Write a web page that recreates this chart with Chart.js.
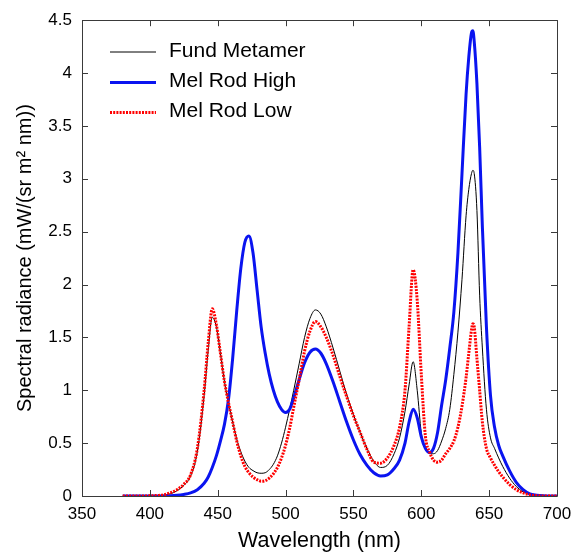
<!DOCTYPE html>
<html>
<head>
<meta charset="utf-8">
<script src="https://cdn.jsdelivr.net/npm/chart.js@4.4.0/dist/chart.umd.min.js"></script>
<style>
  html, body { margin: 0; padding: 0; background: #fff; }
  #wrap { width: 584px; height: 554px; position: relative; }
</style>
</head>
<body>
<div id="wrap"><canvas id="c" width="584" height="554"></canvas></div>
<script>
// Wavelength samples (nm)
const wavelengths = [380,385,390,395,400,405,410,415,420,425,430,435,440,443,446,449,452,455,458,461,464,467,470,473,476,479,482,485,488,491,494,497,500,503,506,510,514,518,522,526,530,535,540,545,550,555,560,565,570,575,580,584,588,591,594,597,600,603,606,609,612,615,618,621,624,627,630,633,635,637,638,639,641,643,645,648,651,654,657,660,665,670,675,680,685,690,695,700];

// Fund Metamer (black)
const fundMetamer = [0,0,0,0,0.002,0.004,0.008,0.02,0.05,0.1,0.19,0.42,0.95,1.38,1.69,1.6,1.35,1.08,0.88,0.7,0.54,0.42,0.33,0.27,0.24,0.22,0.215,0.22,0.25,0.3,0.38,0.5,0.65,0.82,1.0,1.25,1.5,1.68,1.76,1.72,1.6,1.4,1.18,0.96,0.77,0.6,0.45,0.33,0.27,0.29,0.4,0.55,0.8,1.05,1.27,1.0,0.6,0.45,0.41,0.4,0.43,0.52,0.64,0.82,1.15,1.55,2.05,2.65,2.9,3.05,3.08,3.05,2.7,1.9,1.4,0.82,0.55,0.45,0.36,0.28,0.17,0.09,0.04,0.015,0.005,0,0,0];

// Mel Rod High (blue)
const melRodHigh = [0,0,0,0,0,0,0.001,0.002,0.006,0.015,0.03,0.06,0.12,0.18,0.27,0.38,0.52,0.68,0.92,1.3,1.75,2.15,2.4,2.46,2.3,1.95,1.6,1.35,1.15,1.0,0.89,0.82,0.79,0.82,0.93,1.1,1.26,1.36,1.39,1.35,1.25,1.08,0.89,0.7,0.53,0.39,0.29,0.22,0.19,0.2,0.26,0.34,0.5,0.7,0.82,0.74,0.56,0.45,0.41,0.45,0.6,0.86,1.1,1.4,1.74,2.3,3.05,3.8,4.15,4.38,4.4,4.3,3.9,3.3,2.55,1.6,0.95,0.65,0.48,0.38,0.24,0.13,0.06,0.02,0.008,0.002,0,0];

// Mel Rod Low (red, dotted)
const melRodLow = [0,0,0,0,0.002,0.005,0.01,0.03,0.06,0.11,0.2,0.45,1.0,1.45,1.77,1.62,1.35,1.08,0.88,0.7,0.52,0.38,0.28,0.22,0.18,0.155,0.14,0.145,0.17,0.21,0.27,0.36,0.48,0.64,0.84,1.1,1.37,1.56,1.65,1.6,1.5,1.33,1.13,0.94,0.76,0.6,0.44,0.32,0.31,0.36,0.48,0.65,1.0,1.6,2.14,1.85,1.15,0.57,0.42,0.34,0.32,0.34,0.4,0.45,0.52,0.65,0.85,1.12,1.35,1.57,1.63,1.6,1.3,1.0,0.7,0.45,0.36,0.29,0.23,0.18,0.11,0.06,0.03,0.01,0.003,0,0,0];

const seriesNames = ['Fund Metamer', 'Mel Rod High', 'Mel Rod Low'];
const xTicks = [350,400,450,500,550,600,650,700];
const yTicks = [0,0.5,1,1.5,2,2.5,3,3.5,4,4.5];

function pts(vals) { return wavelengths.map((w, i) => ({x: w, y: vals[i]})); }

const FONT = "'Liberation Sans', Arial, Helvetica, sans-serif";

const frameTicks = {
  id: 'frameTicks',
  afterDatasetsDraw(chart) {
    const {ctx, chartArea: a, scales: {x, y}} = chart;
    ctx.save();
    ctx.strokeStyle = '#3a3a3a';
    ctx.lineWidth = 1;
    ctx.beginPath();
    ctx.rect(Math.round(a.left) + 0.5, Math.round(a.top) + 0.5, Math.round(a.right - a.left), Math.round(a.bottom - a.top));
    ctx.stroke();
    const L = 6;
    ctx.beginPath();
    xTicks.forEach(v => {
      const px = Math.round(x.getPixelForValue(v)) + 0.5;
      ctx.moveTo(px, a.bottom); ctx.lineTo(px, a.bottom - L);
      ctx.moveTo(px, a.top); ctx.lineTo(px, a.top + L);
    });
    yTicks.forEach(v => {
      const py = Math.round(y.getPixelForValue(v)) + 0.5;
      ctx.moveTo(a.left, py); ctx.lineTo(a.left + L, py);
      ctx.moveTo(a.right, py); ctx.lineTo(a.right - L, py);
    });
    ctx.stroke();
    ctx.restore();
  },
  afterDraw(chart) {
    const {ctx} = chart;
    ctx.save();
    const rows = [52, 82.5, 112.5];
    chart.data.datasets.forEach((ds, i) => {
      const yy = rows[i];
      ctx.beginPath();
      ctx.strokeStyle = ds.borderColor;
      ctx.lineWidth = ds.borderWidth;
      ctx.setLineDash(ds.borderDash || []);
      ctx.moveTo(110, yy); ctx.lineTo(156, yy);
      ctx.stroke();
      ctx.setLineDash([]);
      ctx.fillStyle = '#000';
      ctx.font = '21px ' + FONT;
      ctx.textBaseline = 'middle';
      ctx.textAlign = 'left';
      ctx.fillText(seriesNames[i], 169, yy - 1);
    });
    ctx.restore();
  }
};

new Chart(document.getElementById('c'), {
  type: 'line',
  data: {
    datasets: [
      { label: seriesNames[0], data: pts(fundMetamer), borderColor: '#000000', borderWidth: 1, pointRadius: 0, cubicInterpolationMode: 'monotone', order: 2 },
      { label: seriesNames[1], data: pts(melRodHigh), borderColor: '#0a14f0', borderWidth: 3, pointRadius: 0, cubicInterpolationMode: 'monotone', order: 1 },
      { label: seriesNames[2], data: pts(melRodLow), borderColor: '#ff0000', borderWidth: 3, borderDash: [2, 1.2], pointRadius: 0, cubicInterpolationMode: 'monotone', order: 0 }
    ]
  },
  options: {
    responsive: false,
    animation: false,
    events: [],
    layout: { padding: { top: 15, right: 27, left: 0, bottom: 0 } },
    plugins: { legend: { display: false }, tooltip: { enabled: false } },
    scales: {
      x: {
        type: 'linear', min: 350, max: 700,
        afterBuildTicks: s => { s.ticks = xTicks.map(v => ({value: v})); },
        afterFit: s => { s.height = 58; },
        grid: { display: false, drawTicks: false },
        border: { display: false },
        ticks: { color: '#000', padding: 8, maxRotation: 0, font: { family: FONT, size: 17 }, callback: v => String(v) },
        title: { display: true, text: 'Wavelength (nm)', color: '#000', padding: { top: 0, bottom: 0 }, font: { family: FONT, size: 21.5 } }
      },
      y: {
        type: 'linear', min: 0, max: 4.5,
        afterBuildTicks: s => { s.ticks = yTicks.map(v => ({value: v})); },
        afterFit: s => { s.width = 82; },
        grid: { display: false, drawTicks: false },
        border: { display: false },
        ticks: { color: '#000', padding: 10, font: { family: FONT, size: 17 }, callback: v => String(v) },
        title: { display: true, text: 'Spectral radiance (mW/(sr m² nm))', color: '#000', padding: { top: 13, bottom: 0 }, font: { family: FONT, size: 20 } }
      }
    }
  },
  plugins: [frameTicks]
});
</script>
</body>
</html>
